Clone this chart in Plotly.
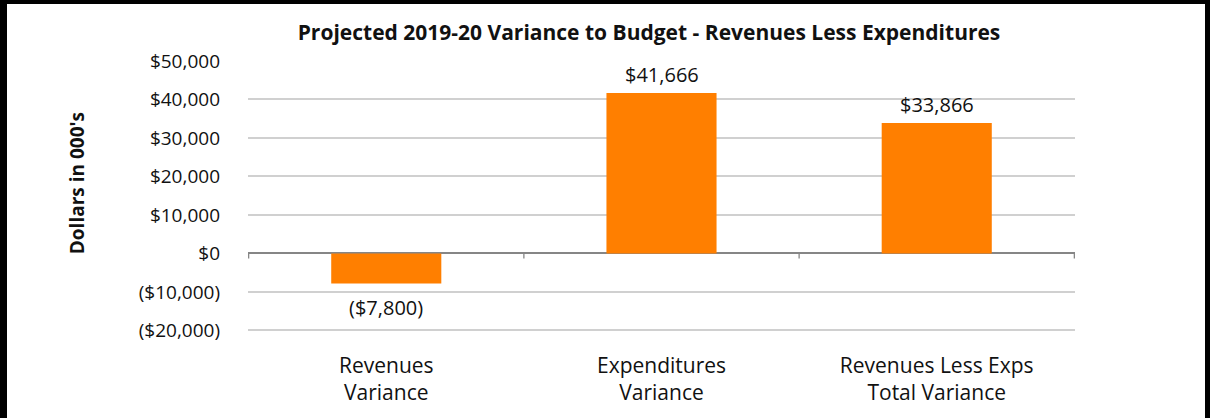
import plotly.graph_objects as go

categories = ["Revenues<br>Variance", "Expenditures<br>Variance", "Revenues Less Exps<br>Total Variance"]
variance = [-7800, 41666, 33866]
tick_vals = [-20000, -10000, 0, 10000, 20000, 30000, 40000, 50000]


def money(v):
    s = "${:,.0f}".format(abs(v))
    return "(" + s + ")" if v < 0 else s


W, H = 1210, 418
y_lo, y_hi = -20400, 50000
px_per_unit = (330 - 61) / 70000
ml, mr, mt = 248, 135, 61
mb = H - mt - (y_hi - y_lo) * px_per_unit
pw, ph = W - ml - mr, H - mt - mb

fig = go.Figure()
fig.add_trace(go.Bar(
    x=categories,
    y=variance,
    width=0.4,
    marker=dict(color="#FF7F00", line=dict(width=0)),
    hoverinfo="skip",
))

# value labels above positive bars, below negative ones
for cat, v in zip(categories, variance):
    fig.add_annotation(
        x=cat, y=v, text=money(v), showarrow=False,
        yanchor="middle", yshift=19 if v >= 0 else -24,
        font=dict(size=20, color="#111"),
    )

# category boundary ticks on the zero line
for b in [-0.5, 0.5, 1.5, 2.5]:
    fig.add_shape(type="line", xref="x", yref="y", x0=b, x1=b, y0=0, y1=-1300,
                  line=dict(color="#868686", width=1.3))

# y axis title
fig.add_annotation(
    text="<b>Dollars in 000's</b>", textangle=-90, showarrow=False,
    xref="paper", yref="paper", x=(77 - ml) / pw, y=(H - mb - 183) / ph,
    xanchor="center", yanchor="middle",
    font=dict(size=19, color="#111"),
)

fig.update_layout(
    width=W, height=H,
    margin=dict(l=ml, r=mr, t=mt, b=mb, autoexpand=False),
    paper_bgcolor="white",
    plot_bgcolor="white",
    font=dict(family="Open Sans, sans-serif", size=19, color="#111"),
    showlegend=False,
    title=dict(
        text="<b>Projected 2019-20 Variance to Budget - Revenues Less Expenditures</b>",
        x=649 / W, xanchor="center", xref="container",
        y=1 - 33 / H, yanchor="middle", yref="container",
        font=dict(size=21, color="#111"),
    ),
    bargap=0.6,
)
fig.update_yaxes(
    range=[y_lo, y_hi],
    automargin=False,
    tickvals=tick_vals,
    ticktext=[money(v) for v in tick_vals],
    showgrid=True, gridcolor="#d0d0d0", gridwidth=1.5,
    zeroline=True, zerolinecolor="#868686", zerolinewidth=1.5,
    showline=False,
    ticks="", ticklabelstandoff=27,
    tickfont=dict(size=19),
)
fig.update_xaxes(
    automargin=False,
    showgrid=False, showline=False, zeroline=False,
    ticks="", ticklabelstandoff=19,
    tickfont=dict(size=21),
)

# page tweaks: no body margin, black frame round the chart
frame_js = """
document.body.style.margin = '0';
var f = document.createElement('div');
f.style.cssText = 'position:fixed;left:0;top:0;width:1210px;height:440px;box-sizing:border-box;' +
    'border-style:solid;border-color:#000;border-width:4px 5px 0 7px;pointer-events:none;z-index:9999;';
document.body.appendChild(f);
"""

fig.write_html("out.html", post_script=frame_js, config={"displayModeBar": False})
